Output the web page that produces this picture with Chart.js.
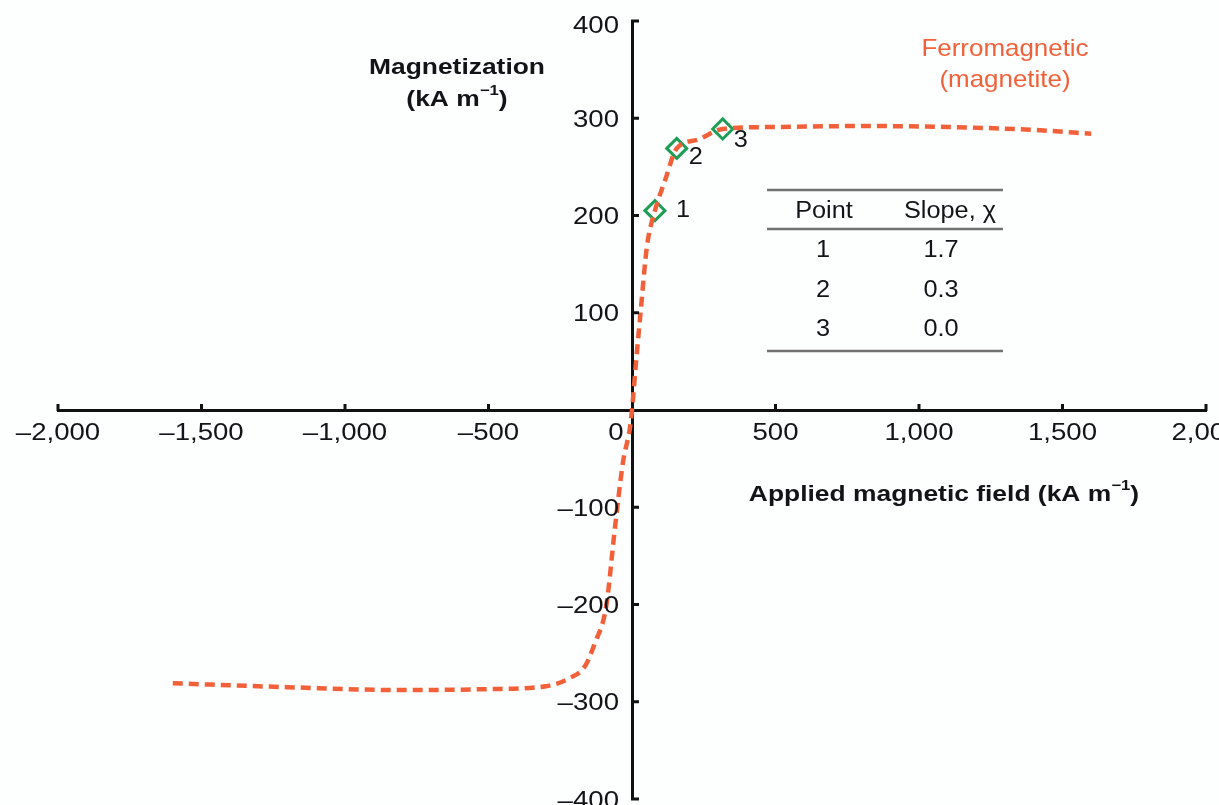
<!DOCTYPE html>
<html>
<head>
<meta charset="utf-8">
<script src="https://cdn.jsdelivr.net/npm/chart.js@4.4.1/dist/chart.umd.min.js"></script>
<style>
  html, body { margin: 0; padding: 0; background: #fdfefe; overflow: hidden; }
  #wrap { width: 1219px; height: 812px; position: relative; }
  canvas { display: block; }
</style>
</head>
<body>
<div id="wrap"><canvas id="c" width="1219" height="812"></canvas></div>
<script>
// ---- Data ----
const fieldH = [-1600, -1200, -800, -500, -300, -220, -163, -130, -90, -59, -31, -7, 0, 14, 31, 52, 80, 115, 156, 229, 316, 500, 800, 1100, 1400, 1600];
const magM   = [-281, -285, -288, -287, -284, -276, -263, -240, -202, -120, -53, -18, 0, 49, 104, 168, 205, 236, 269, 278, 289, 291, 292, 291, 288, 284];

const markH = [80, 156, 316];
const markM = [205, 269, 289];
const markLabels = ['1', '2', '3'];

const xTicks = [-2000, -1500, -1000, -500, 0, 500, 1000, 1500, 2000];
const yTicks = [-400, -300, -200, -100, 0, 100, 200, 300, 400];

const tableHeader = ['Point', 'Slope, \u03C7'];
const tablePoints = ['1', '2', '3'];
const tableSlopes = ['1.7', '0.3', '0.0'];

const seriesName = ['Ferromagnetic', '(magnetite)'];
const yTitle = ['Magnetization', '(kA m', '\u22121', ')'];
const xTitle = ['Applied magnetic field (kA m', '\u22121', ')'];

// ---- Styles ----
const FONT = '"Liberation Sans", Arial, Helvetica, sans-serif';
const TEXT = '#141418';
const ORANGE = '#F2603A';
const GREEN = '#1E9E55';

function fmt(v) {
  const s = Math.abs(v).toLocaleString('en-US');
  return v < 0 ? '\u2013' + s : s;
}

// draws text (optionally with superscript parts), horizontally stretched by sx
function drawParts(ctx, parts, x, y, size, bold, sx, color, align) {
  ctx.save();
  const w = bold ? 'bold ' : '';
  let total = 0;
  const widths = parts.map(p => {
    ctx.font = w + (p.sup ? Math.round(size * 0.62) : size) + 'px ' + FONT;
    const m = ctx.measureText(p.t).width;
    total += m;
    return m;
  });
  ctx.translate(x, y);
  ctx.scale(sx, 1);
  ctx.fillStyle = color;
  ctx.textBaseline = 'middle';
  ctx.textAlign = 'left';
  let cx = align === 'right' ? -total : (align === 'left' ? 0 : -total / 2);
  parts.forEach((p, i) => {
    ctx.font = w + (p.sup ? Math.round(size * 0.62) : size) + 'px ' + FONT;
    ctx.fillText(p.t, cx, p.sup ? -size * 0.38 : 0);
    cx += widths[i];
  });
  ctx.restore();
}

function noPad(s) {
  s.paddingLeft = 0; s.paddingRight = 0; s.paddingTop = 0; s.paddingBottom = 0;
}

const overlay = {
  id: 'overlay',
  beforeDraw(chart) {
    const ctx = chart.ctx;
    ctx.save();
    ctx.fillStyle = '#fdfefe';
    ctx.fillRect(0, 0, chart.width, chart.height);
    ctx.restore();
  },
  afterDraw(chart) {
    const ctx = chart.ctx;
    const xs = chart.scales.x, ys = chart.scales.y;
    const x0 = xs.getPixelForValue(0), y0 = ys.getPixelForValue(0);

    // tick marks (inside: up on x axis, right on y axis)
    ctx.save();
    ctx.strokeStyle = '#111';
    ctx.lineWidth = 3;
    ctx.beginPath();
    xTicks.forEach(v => {
      if (v === 0) return;
      const px = xs.getPixelForValue(v);
      ctx.moveTo(px, y0 + 1); ctx.lineTo(px, y0 - 6);
    });
    yTicks.forEach(v => {
      if (v === 0) return;
      const py = ys.getPixelForValue(v);
      ctx.moveTo(x0 - 1, py); ctx.lineTo(x0 + 7, py);
    });
    ctx.stroke();
    ctx.restore();

    // tick labels, placed through the scales
    xTicks.forEach(v => {
      const px = xs.getPixelForValue(v) + (v === 0 ? -16 : 0);
      drawParts(ctx, [{t: fmt(v)}], px, y0 + 23, 24, false, 1.15, TEXT);
    });
    yTicks.forEach(v => {
      if (v === 0) return;
      const py = ys.getPixelForValue(v) + (v === 400 ? 5 : 2);
      drawParts(ctx, [{t: fmt(v)}], x0 - 13, py, 24, false, 1.15, TEXT, 'right');
    });

    // axis titles
    drawParts(ctx, [{t: yTitle[0]}], 457, 68, 22, true, 1.2, TEXT);
    drawParts(ctx, [{t: yTitle[1]}, {t: yTitle[2], sup: true}, {t: yTitle[3]}], 457, 100, 22, true, 1.2, TEXT);
    drawParts(ctx, [{t: xTitle[0]}, {t: xTitle[1], sup: true}, {t: xTitle[2]}], 944, 495, 22, true, 1.2, TEXT);

    // series label
    drawParts(ctx, [{t: seriesName[0]}], 1005, 49, 24, false, 1.08, ORANGE);
    drawParts(ctx, [{t: seriesName[1]}], 1005, 80, 24, false, 1.08, ORANGE);

    // point labels
    const offs = [[28, 0], [19, 9], [18, 12]];
    markLabels.forEach((s, i) => {
      const px = xs.getPixelForValue(markH[i]) + offs[i][0];
      const py = ys.getPixelForValue(markM[i]) + offs[i][1];
      drawParts(ctx, [{t: s}], px, py, 23, false, 1.1, TEXT);
    });

    // table
    ctx.save();
    ctx.strokeStyle = '#727272';
    ctx.lineWidth = 2.5;
    ctx.beginPath();
    [190, 229, 351].forEach(y => { ctx.moveTo(767, y); ctx.lineTo(1003, y); });
    ctx.stroke();
    ctx.restore();
    drawParts(ctx, [{t: tableHeader[0]}], 824, 212, 23, false, 1.1, TEXT);
    drawParts(ctx, [{t: tableHeader[1]}], 950, 212, 23, false, 1.1, TEXT);
    const rowsY = [251, 291, 330];
    tablePoints.forEach((s, i) => {
      drawParts(ctx, [{t: s}], 823, rowsY[i], 23, false, 1.1, TEXT);
      drawParts(ctx, [{t: tableSlopes[i]}], 941, rowsY[i], 23, false, 1.1, TEXT);
    });
  }
};

new Chart(document.getElementById('c'), {
  type: 'scatter',
  data: {
    datasets: [
      {
        label: 'Ferromagnetic (magnetite)',
        data: fieldH.map((h, i) => ({ x: h, y: magM[i] })),
        showLine: true,
        borderColor: ORANGE,
        borderWidth: 4.5,
        borderDash: [10, 6],
        pointRadius: 0,
        cubicInterpolationMode: 'monotone',
        fill: false
      },
      {
        label: 'Points',
        data: markH.map((h, i) => ({ x: h, y: markM[i] })),
        showLine: false,
        pointStyle: 'rectRot',
        pointRadius: 10,
        pointBorderWidth: 3,
        pointBorderColor: GREEN,
        pointBackgroundColor: 'rgba(0,0,0,0)'
      }
    ]
  },
  options: {
    responsive: false,
    animation: false,
    layout: { padding: { left: 58, right: 11, top: 21, bottom: 5 } },
    plugins: { legend: { display: false }, tooltip: { enabled: false } },
    scales: {
      x: {
        type: 'linear',
        position: { y: 0 },
        min: -2000, max: 2000,
        afterBuildTicks: s => { s.ticks = xTicks.map(v => ({ value: v })); },
        afterFit: noPad,
        ticks: { display: false },
        grid: { display: false, drawTicks: false },
        border: { display: true, color: '#111', width: 3 }
      },
      y: {
        type: 'linear',
        position: { x: 0 },
        min: -400, max: 400,
        afterBuildTicks: s => { s.ticks = yTicks.map(v => ({ value: v })); },
        afterFit: noPad,
        ticks: { display: false },
        grid: { display: false, drawTicks: false },
        border: { display: true, color: '#111', width: 3 }
      }
    }
  },
  plugins: [overlay]
});
</script>
</body>
</html>
